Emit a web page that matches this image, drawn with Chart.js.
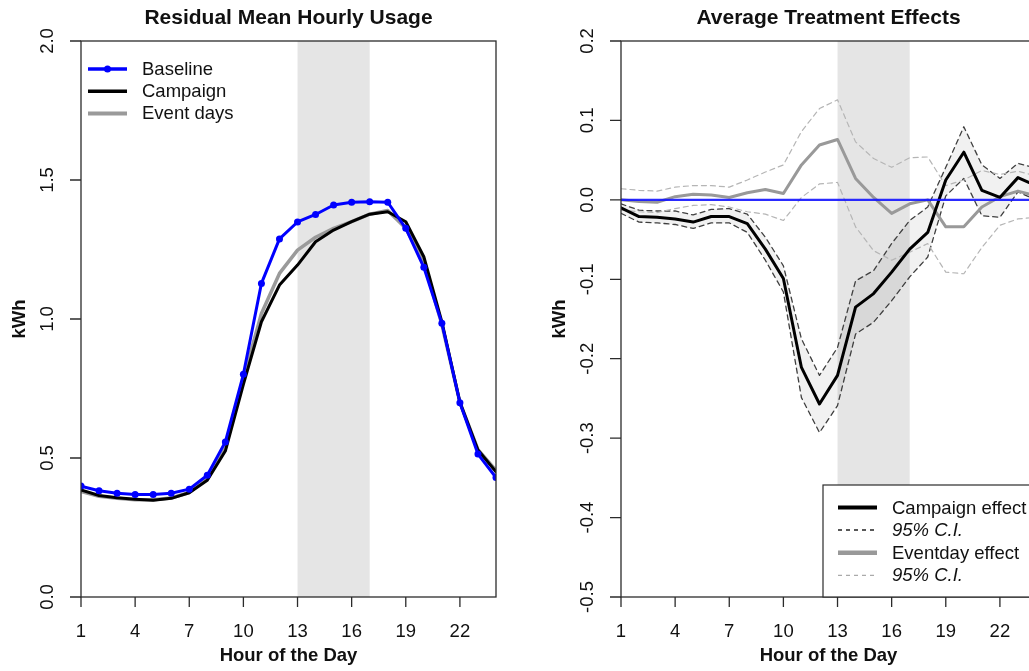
<!DOCTYPE html>
<html>
<head>
<meta charset="utf-8">
<title>Residual Mean Hourly Usage / Average Treatment Effects</title>
<script src="https://cdn.jsdelivr.net/npm/chart.js@4.4.0/dist/chart.umd.min.js"></script>
<style>
  html, body { margin: 0; padding: 0; background: #fff; overflow: hidden; }
  #wrap { position: relative; width: 1080px; height: 671px; }
  canvas { position: absolute; top: 0; }
</style>
</head>
<body>
<div id="wrap">
  <canvas id="usage" width="540" height="671" style="left:0"></canvas>
  <canvas id="effects" width="540" height="671" style="left:540px"></canvas>
</div>
<script>
// ---- data ----
const hours = [1, 2, 3, 4, 5, 6, 7, 8, 9, 10, 11, 12, 13, 14, 15, 16, 17, 18, 19, 20, 21, 22, 23, 24];
const xTicks = [1, 4, 7, 10, 13, 16, 19, 22];
const peakStart = 13;
const peakEnd = 17;

// left panel (kWh)
const baseline  = [0.399, 0.382, 0.373, 0.369, 0.369, 0.373, 0.388, 0.438, 0.558, 0.801, 1.128, 1.288,
                   1.349, 1.376, 1.410, 1.420, 1.422, 1.420, 1.326, 1.186, 0.985, 0.699, 0.514, 0.430];
const campaign  = [0.385, 0.365, 0.357, 0.352, 0.348, 0.355, 0.375, 0.420, 0.525, 0.765, 0.990, 1.122,
                   1.194, 1.278, 1.320, 1.350, 1.377, 1.386, 1.350, 1.224, 0.990, 0.700, 0.529, 0.450];
const eventDays = [0.380, 0.362, 0.355, 0.350, 0.350, 0.356, 0.376, 0.425, 0.535, 0.785, 1.020, 1.164,
                   1.248, 1.294, 1.326, 1.350, 1.377, 1.390, 1.326, 1.206, 0.980, 0.700, 0.530, 0.455];
const usageTicks = [0, 0.5, 1.0, 1.5, 2.0];

// right panel (kWh)
const campaignEffect = [-0.010, -0.021, -0.022, -0.024, -0.028, -0.021, -0.021, -0.030, -0.062, -0.099, -0.211, -0.257,
                        -0.221, -0.135, -0.118, -0.091, -0.062, -0.041, 0.025, 0.060, 0.012, 0.003, 0.028, 0.018];
const campaignUpper  = [-0.005, -0.013, -0.014, -0.014, -0.019, -0.012, -0.011, -0.018, -0.047, -0.083, -0.175, -0.221,
                        -0.186, -0.102, -0.089, -0.055, -0.026, -0.009, 0.041, 0.092, 0.044, 0.027, 0.046, 0.040];
const campaignLower  = [-0.017, -0.028, -0.029, -0.031, -0.036, -0.029, -0.029, -0.041, -0.076, -0.116, -0.249, -0.293,
                        -0.259, -0.169, -0.154, -0.127, -0.097, -0.072, 0.005, 0.027, -0.020, -0.022, 0.010, 0.000];
const eventEffect    = [0.000, -0.002, -0.003, 0.004, 0.007, 0.006, 0.003, 0.009, 0.013, 0.008, 0.044, 0.069,
                        0.076, 0.027, 0.003, -0.017, -0.005, 0.000, -0.034, -0.034, -0.009, 0.004, 0.011, 0.005];
const eventUpper     = [0.014, 0.012, 0.011, 0.016, 0.018, 0.018, 0.016, 0.025, 0.035, 0.044, 0.086, 0.115,
                        0.126, 0.073, 0.052, 0.041, 0.053, 0.054, 0.018, 0.025, 0.037, 0.032, 0.036, 0.030];
const eventLower     = [-0.013, -0.015, -0.016, -0.011, -0.007, -0.006, -0.009, -0.015, -0.018, -0.026, 0.003, 0.020,
                        0.022, -0.034, -0.064, -0.076, -0.066, -0.055, -0.091, -0.093, -0.060, -0.032, -0.024, -0.022];
const noEffect = 0;
const effectTicks = [-0.5, -0.4, -0.3, -0.2, -0.1, 0.0, 0.1, 0.2];

// ---- helpers ----
const FONT = '"Liberation Sans", Arial, Helvetica, sans-serif';
const AXIS = '#2b2b2b';

function pts(ys) {
  return hours.map((h, i) => ({ x: h, y: ys[i] }));
}

function drawLegend(ctx, items, x, y0, step) {
  items.forEach((it, i) => {
    const y = y0 + i * step;
    ctx.save();
    ctx.strokeStyle = it.color;
    ctx.lineWidth = it.width;
    ctx.setLineDash(it.dash || []);
    ctx.beginPath();
    ctx.moveTo(x, y);
    ctx.lineTo(x + 39, y);
    ctx.stroke();
    if (it.point) {
      ctx.fillStyle = it.color;
      ctx.beginPath();
      ctx.arc(x + 19.5, y, 3.5, 0, Math.PI * 2);
      ctx.fill();
    }
    ctx.fillStyle = '#111';
    ctx.font = (it.italic ? 'italic ' : '') + '18.5px ' + FONT;
    ctx.textAlign = 'left';
    ctx.textBaseline = 'middle';
    ctx.fillText(it.label, x + 54, y + 1);
    ctx.restore();
  });
}

// R-style frame, axes, titles and peak-hour shading
function rStyle(cfg) {
  return {
    id: 'rStyle',
    beforeDatasetsDraw(chart) {
      const { ctx, chartArea: a, scales: { x } } = chart;
      const x0 = x.getPixelForValue(peakStart);
      const x1 = x.getPixelForValue(peakEnd);
      ctx.save();
      ctx.fillStyle = '#e5e5e5';
      ctx.fillRect(x0, a.top, x1 - x0, a.bottom - a.top);
      ctx.restore();
    },
    afterDraw(chart) {
      const { ctx, chartArea: a, scales: { x, y } } = chart;
      ctx.save();
      // frame
      ctx.strokeStyle = AXIS;
      ctx.lineWidth = 1.3;
      ctx.strokeRect(a.left, a.top, a.right - a.left, a.bottom - a.top);

      // x axis ticks + labels
      ctx.fillStyle = '#111';
      ctx.font = '18.5px ' + FONT;
      ctx.textAlign = 'center';
      ctx.textBaseline = 'middle';
      ctx.beginPath();
      xTicks.forEach(t => {
        const px = x.getPixelForValue(t);
        ctx.moveTo(px, a.bottom);
        ctx.lineTo(px, a.bottom + 10);
        ctx.fillText(String(t), px, a.bottom + 35);
      });
      // y axis ticks
      cfg.yTicks.forEach(t => {
        const py = y.getPixelForValue(t);
        ctx.moveTo(a.left, py);
        ctx.lineTo(a.left - 11, py);
      });
      ctx.stroke();
      // y labels, rotated
      cfg.yTicks.forEach(t => {
        const py = y.getPixelForValue(t);
        ctx.save();
        ctx.translate(a.left - 33, py);
        ctx.rotate(-Math.PI / 2);
        ctx.fillText(t.toFixed(1), 0, 0);
        ctx.restore();
      });

      // titles
      const cx = (a.left + a.right) / 2;
      ctx.font = 'bold 21px ' + FONT;
      ctx.fillText(cfg.title, cx, 18);
      ctx.font = 'bold 18.5px ' + FONT;
      ctx.fillText('Hour of the Day', cx, 656);
      ctx.save();
      ctx.translate(a.left - 61, (a.top + a.bottom) / 2);
      ctx.rotate(-Math.PI / 2);
      ctx.fillText('kWh', 0, 0);
      ctx.restore();
      ctx.restore();

      cfg.legend(ctx, a);
    }
  };
}

function baseOptions(ymin, ymax) {
  return {
    responsive: false,
    animation: false,
    events: [],
    layout: { padding: { left: 81, right: 44, top: 41, bottom: 74 } },
    plugins: { legend: { display: false }, tooltip: { enabled: false }, title: { display: false } },
    scales: {
      x: { type: 'linear', min: 1, max: 24, display: false },
      y: { type: 'linear', min: ymin, max: ymax, display: false }
    },
    elements: { line: { tension: 0, borderCapStyle: 'round', borderJoinStyle: 'round' }, point: { radius: 0 } }
  };
}

// ---- left: residual mean hourly usage ----
new Chart(document.getElementById('usage'), {
  type: 'line',
  data: {
    datasets: [
      { label: 'Baseline', data: pts(baseline), borderColor: '#0000ff', borderWidth: 3,
        pointRadius: 3.5, pointBackgroundColor: '#0000ff', pointBorderWidth: 0 },
      { label: 'Campaign', data: pts(campaign), borderColor: '#000', borderWidth: 3 },
      { label: 'Event days', data: pts(eventDays), borderColor: '#9a9a9a', borderWidth: 3.5 }
    ]
  },
  options: baseOptions(0, 2),
  plugins: [rStyle({
    title: 'Residual Mean Hourly Usage',
    yTicks: usageTicks,
    legend(ctx) {
      drawLegend(ctx, [
        { label: 'Baseline', color: '#0000ff', width: 3.5, point: true },
        { label: 'Campaign', color: '#000', width: 3.5 },
        { label: 'Event days', color: '#9a9a9a', width: 4 }
      ], 88, 69, 22.2);
    }
  })]
});

// ---- right: average treatment effects ----
new Chart(document.getElementById('effects'), {
  type: 'line',
  data: {
    datasets: [
      { label: 'No effect', data: hours.map(h => ({ x: h, y: noEffect })), borderColor: 'rgba(20,20,255,0.9)', borderWidth: 2.2 },
      { label: 'Campaign effect', data: pts(campaignEffect), borderColor: '#000', borderWidth: 3 },
      { label: 'Eventday effect', data: pts(eventEffect), borderColor: '#999', borderWidth: 3 },
      { label: 'Eventday upper', data: pts(eventUpper), borderColor: '#b5b5b5', borderWidth: 1.2, borderDash: [5, 4] },
      { label: 'Eventday lower', data: pts(eventLower), borderColor: '#b5b5b5', borderWidth: 1.2, borderDash: [5, 4] },
      { label: 'Campaign upper', data: pts(campaignUpper), borderColor: '#404040', borderWidth: 1.3, borderDash: [5, 4],
        fill: { target: 6 }, backgroundColor: 'rgba(0,0,0,0.055)' },
      { label: 'Campaign lower', data: pts(campaignLower), borderColor: '#404040', borderWidth: 1.3, borderDash: [5, 4] }
    ]
  },
  options: baseOptions(-0.5, 0.2),
  plugins: [rStyle({
    title: 'Average Treatment Effects',
    yTicks: effectTicks,
    legend(ctx, a) {
      const bx = 283, by = 485;
      ctx.save();
      ctx.fillStyle = '#fff';
      ctx.fillRect(bx, by, 540 - bx, a.bottom - by);
      ctx.strokeStyle = AXIS;
      ctx.lineWidth = 1.2;
      ctx.strokeRect(bx, by, 520 - bx, a.bottom - by);
      ctx.restore();
      drawLegend(ctx, [
        { label: 'Campaign effect', color: '#000', width: 4 },
        { label: '95% C.I.', color: '#222', width: 1.5, dash: [4, 4], italic: true },
        { label: 'Eventday effect', color: '#999', width: 4.5 },
        { label: '95% C.I.', color: '#aaa', width: 1.3, dash: [4, 4], italic: true }
      ], 298, 507.5, 22.6);
    }
  })]
});
</script>
</body>
</html>
